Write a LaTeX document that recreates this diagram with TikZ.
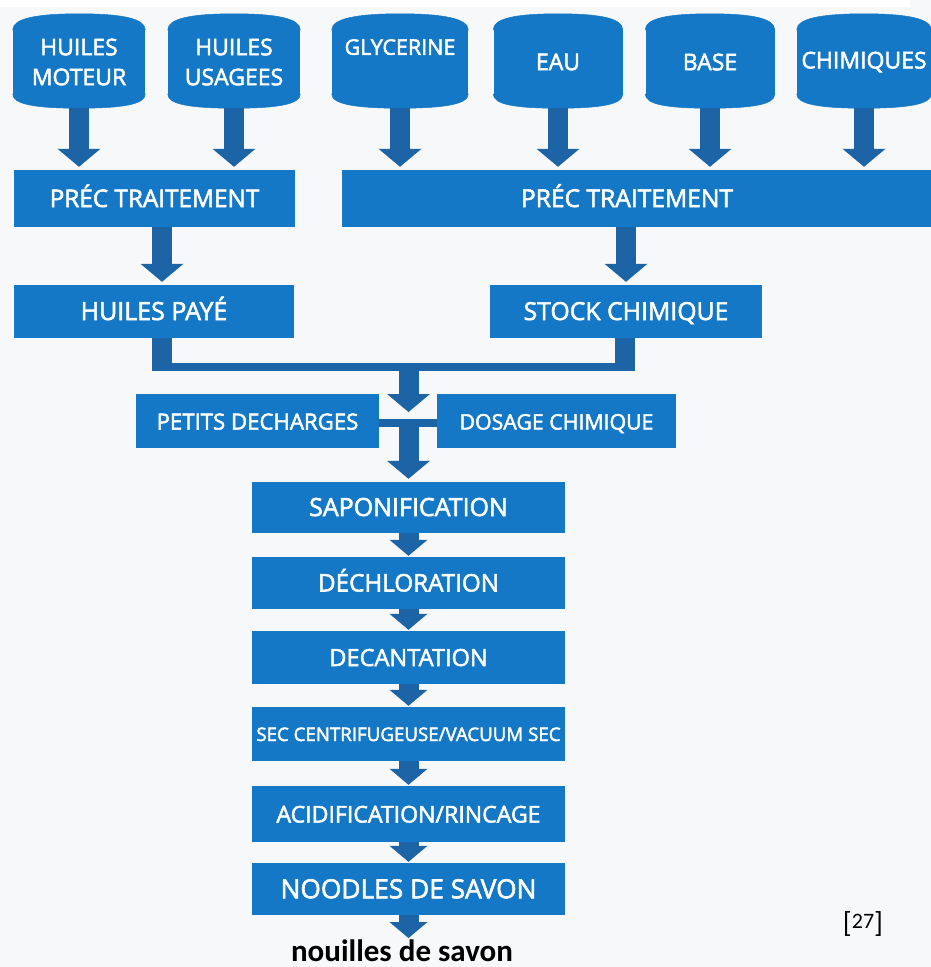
\documentclass[tikz,border=0pt]{standalone}
\usepackage{fontspec}
\usetikzlibrary{arrows.meta}

\newfontfamily\boxfont{Open Sans}[FakeBold=2.2]
\newfontfamily\notefont{Carlito}
\newcommand\fsz[1]{\fontsize{#1}{#1}\selectfont}

\definecolor{boxblue}{RGB}{20,120,198}
\definecolor{arrowblue}{RGB}{28,100,166}
\definecolor{pagegray}{RGB}{247,248,249}

\tikzset{
    proc/.style={rectangle, fill=boxblue, text=white, inner sep=0pt, text height=17pt, text depth=0pt, font=\boxfont\fsz{24}},
    drum/.style={rectangle, fill=boxblue, text=white, inner sep=0pt, minimum height=64pt, align=center, font=\boxfont\fontsize{23}{30}\selectfont},
    bigflow/.style={draw=arrowblue, line width=20pt, shorten >=3pt, -{Triangle[width=43pt, length=18pt, line width=0pt]}},
    flow/.style={draw=arrowblue, line width=20pt, shorten >=1pt, -{Triangle[width=38pt, length=16pt, line width=0pt]}},
    link/.style={draw=arrowblue, line width=20pt},
    bus/.style={draw=arrowblue, line width=8pt},
}

\begin{document}
\begin{tikzpicture}[x=1pt, y=-1pt]
        \useasboundingbox (0,0) rectangle (931,967);
        \fill[pagegray] (0,0) rectangle (931,967);
        \fill[white] (0,0) rectangle (910,7);

        % drums
        \node[drum, minimum width=132pt] (hm) at (79,62) {HUILES\\MOTEUR};
        \node[drum, minimum width=132pt] (hu) at (234,62) {HUILES\\USAGEES};
        \node[drum, minimum width=136pt, font=\boxfont\fontsize{21.5}{30}\selectfont] (gly) at (400,62) {GLYCERINE\\~};
        \node[drum, minimum width=129pt] (eau) at (558,62) {EAU};
        \node[drum, minimum width=129pt] (base) at (710,62) {BASE};
        \node[drum, minimum width=134pt] (chim) at (864,62) {CHIMIQUES};

        \foreach \d in {hm,hu,gly,eau,base,chim} {
            \filldraw[boxblue, line width=.5pt] (\d.north west) .. controls +(0,-11) and +(-44,0) .. ([yshift=16pt]\d.north) .. controls +(44,0) and +(0,-11) .. (\d.north east) -- cycle;
            \filldraw[boxblue, line width=.5pt] (\d.south west) .. controls +(0,10) and +(-44,0) .. ([yshift=-14pt]\d.south) .. controls +(44,0) and +(0,10) .. (\d.south east) -- cycle;
        }

        % pre-treatment and storage
        \node[proc, minimum width=281pt, minimum height=57pt, font=\boxfont\fsz{24.3}] (pt1) at (154.5,198.5) {PRÉC TRAITEMENT};
        \node[proc, minimum width=590pt, minimum height=57pt, font=\boxfont\fsz{24.6}] (pt2) at (637,198.5) {PRÉC TRAITEMENT\hspace*{20pt}};
        \node[proc, minimum width=280pt, minimum height=53pt, font=\boxfont\fsz{25}] (hp) at (154,311.5) {HUILES PAYÉ};
        \node[proc, minimum width=272pt, minimum height=53pt, font=\boxfont\fsz{24.8}] (sc) at (626,311.5) {STOCK CHIMIQUE};
        \node[proc, minimum width=243pt, minimum height=54pt, font=\boxfont\fsz{22.2}] (pd) at (257.5,421) {PETITS DECHARGES};
        \node[proc, minimum width=239pt, minimum height=54pt, font=\boxfont\fsz{21.3}] (dc) at (556.5,421) {DOSAGE CHIMIQUE};

        % process line
        \node[proc, minimum width=313pt, minimum height=51pt, font=\boxfont\fsz{25}] (sap) at (408.5,507.5) {SAPONIFICATION};
        \node[proc, minimum width=313pt, minimum height=52pt, font=\boxfont\fsz{24.2}] (dech) at (408.5,583) {DÉCHLORATION};
        \node[proc, minimum width=313pt, minimum height=53pt, font=\boxfont\fsz{23.6}] (dec) at (408.5,657.5) {DECANTATION};
        \node[proc, minimum width=313pt, minimum height=54pt, font=\boxfont\fsz{18.7}, text height=14pt] (sec) at (408.5,734) {SEC CENTRIFUGEUSE/VACUUM SEC};
        \node[proc, minimum width=313pt, minimum height=56pt, font=\boxfont\fsz{23.1}] (acid) at (408.5,814) {ACIDIFICATION/RINCAGE};
        \node[proc, minimum width=313pt, minimum height=52pt, font=\boxfont\fsz{26.3}, text height=18.5pt] (nood) at (408.5,889) {NOODLES DE SAVON};

        \node[font=\notefont\bfseries\fsz{31}, inner sep=0pt, anchor=base] (out) at (402,961) {nouilles de savon};
        \node[font=\notefont\fsz{29}, inner sep=0pt, anchor=base] (ref) at (863,932) {[\raisebox{4pt}{\fsz{22}27}]};

        \coordinate (jl) at (162,371);
        \coordinate (jr) at (625,371);
        \coordinate (mix) at (408.5,412);

        % arrows
        \foreach \d in {hm,hu}
            \draw[bigflow] ([yshift=-14pt]\d.south) -- (\d |- pt1.north);
        \foreach \d in {gly,eau,base,chim}
            \draw[bigflow] ([yshift=-14pt]\d.south) -- (\d |- pt2.north);

        \draw[bigflow] (pt1.south -| jl) -- (hp.north -| jl);
        \draw[bigflow] (sc |- pt2.south) -- (sc.north);

        \draw[link] (hp.south -| jl) -- (jl);
        \draw[link] (sc.south -| jr) -- (jr);
        \fill[arrowblue] ([xshift=-10pt]jl) rectangle ([xshift=10pt,yshift=8pt]jr);
        \draw[bigflow, shorten >=0pt] (jl -| sap) -- (mix);

        \draw[bus] ([yshift=-2pt]pd.east) -- ([yshift=-2pt]dc.west);
        \draw[bigflow] ([yshift=-2pt]pd.east -| sap) -- (sap.north);

        \foreach \a/\b in {sap/dech, dech/dec, dec/sec, sec/acid, acid/nood}
            \draw[flow] (\a.south) -- (\b.north);
        \draw[flow] (nood.south) -- (out.north -| nood);
    \end{tikzpicture}
\end{document}
